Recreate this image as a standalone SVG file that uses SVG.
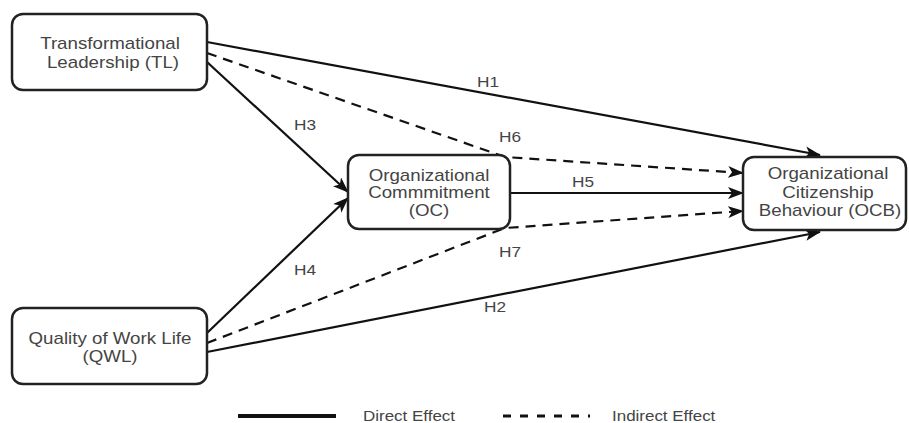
<svg xmlns="http://www.w3.org/2000/svg" width="909" height="423" viewBox="0 0 909 423">
  <style>
    .box { fill: #ffffff; stroke: #222222; stroke-width: 2.5; }
    .t { font-family: "Liberation Sans", Arial, sans-serif; font-size: 16px; fill: #444444; text-anchor: middle; }
    .lbl { font-family: "Liberation Sans", Arial, sans-serif; font-size: 15px; fill: #444444; text-anchor: middle; }
    .leg { font-family: "Liberation Sans", Arial, sans-serif; font-size: 14.5px; fill: #444444; }
    .solid { fill: none; stroke: #111111; stroke-width: 2.2; }
    .dash { fill: none; stroke: #111111; stroke-width: 2.2; stroke-dasharray: 10 7; }
  </style>
  <defs>
    <marker id="arr" markerUnits="userSpaceOnUse" markerWidth="16" markerHeight="12" refX="15" refY="6" orient="auto">
      <path d="M0,0 L16,6 L0,12 L4,6 Z" fill="#111111" stroke="none"/>
    </marker>
  </defs>
  <rect width="909" height="423" fill="#ffffff"/>

  <g id="connectors">
    <path id="H1" class="solid" d="M207,42 L820,155" marker-end="url(#arr)"/>
    <path id="H6" class="dash" d="M207,53 L505,157 L743,173" marker-end="url(#arr)"/>
    <path id="H3" class="solid" d="M207,62 L348,192" marker-end="url(#arr)"/>
    <path id="H5" class="solid" d="M510,193 L743,193" marker-end="url(#arr)"/>
    <path id="H7" class="dash" d="M207,343 L505,228 L743,211" marker-end="url(#arr)"/>
    <path id="H4" class="solid" d="M207,333 L348,198" marker-end="url(#arr)"/>
    <path id="H2" class="solid" d="M207,352 L820,232" marker-end="url(#arr)"/>
  </g>

  <g id="labels">
    <text class="lbl" transform="translate(488,87) scale(1.15,1)">H1</text>
    <text class="lbl" transform="translate(510,142) scale(1.15,1)">H6</text>
    <text class="lbl" transform="translate(305,130) scale(1.15,1)">H3</text>
    <text class="lbl" transform="translate(583,187) scale(1.15,1)">H5</text>
    <text class="lbl" transform="translate(510,257) scale(1.15,1)">H7</text>
    <text class="lbl" transform="translate(305,275) scale(1.15,1)">H4</text>
    <text class="lbl" transform="translate(495,312) scale(1.15,1)">H2</text>
  </g>

  <g id="TL">
    <rect class="box" x="12" y="14" width="195" height="76" rx="11"/>
    <text class="t" transform="translate(110,48.5) scale(1.17,1)">Transformational</text>
    <text class="t" transform="translate(113,67.5) scale(1.17,1)">Leadership (TL)</text>
  </g>

  <g id="OC">
    <rect class="box" x="348" y="155" width="162" height="74" rx="11"/>
    <text class="t" transform="translate(429,181) scale(1.17,1)">Organizational</text>
    <text class="t" transform="translate(429,198) scale(1.17,1)">Commmitment</text>
    <text class="t" transform="translate(429,216) scale(1.17,1)">(OC)</text>
  </g>

  <g id="OCB">
    <rect class="box" x="743" y="157" width="163" height="73" rx="11"/>
    <text class="t" transform="translate(828,179) scale(1.17,1)">Organizational</text>
    <text class="t" transform="translate(828,198) scale(1.17,1)">Citizenship</text>
    <text class="t" transform="translate(830,216) scale(1.17,1)">Behaviour (OCB)</text>
  </g>

  <g id="QWL">
    <rect class="box" x="12" y="308" width="195" height="76" rx="11"/>
    <text class="t" transform="translate(110,343.5) scale(1.17,1)">Quality of Work Life</text>
    <text class="t" transform="translate(110,361.5) scale(1.17,1)">(QWL)</text>
  </g>

  <g id="legend">
    <line x1="238" y1="416" x2="336" y2="416" stroke="#111111" stroke-width="4"/>
    <text class="leg" transform="translate(363,421) scale(1.17,1)">Direct Effect</text>
    <line x1="503" y1="416" x2="590" y2="416" stroke="#111111" stroke-width="3" stroke-dasharray="8 9"/>
    <text class="leg" transform="translate(612,421) scale(1.17,1)">Indirect Effect</text>
  </g>
</svg>
